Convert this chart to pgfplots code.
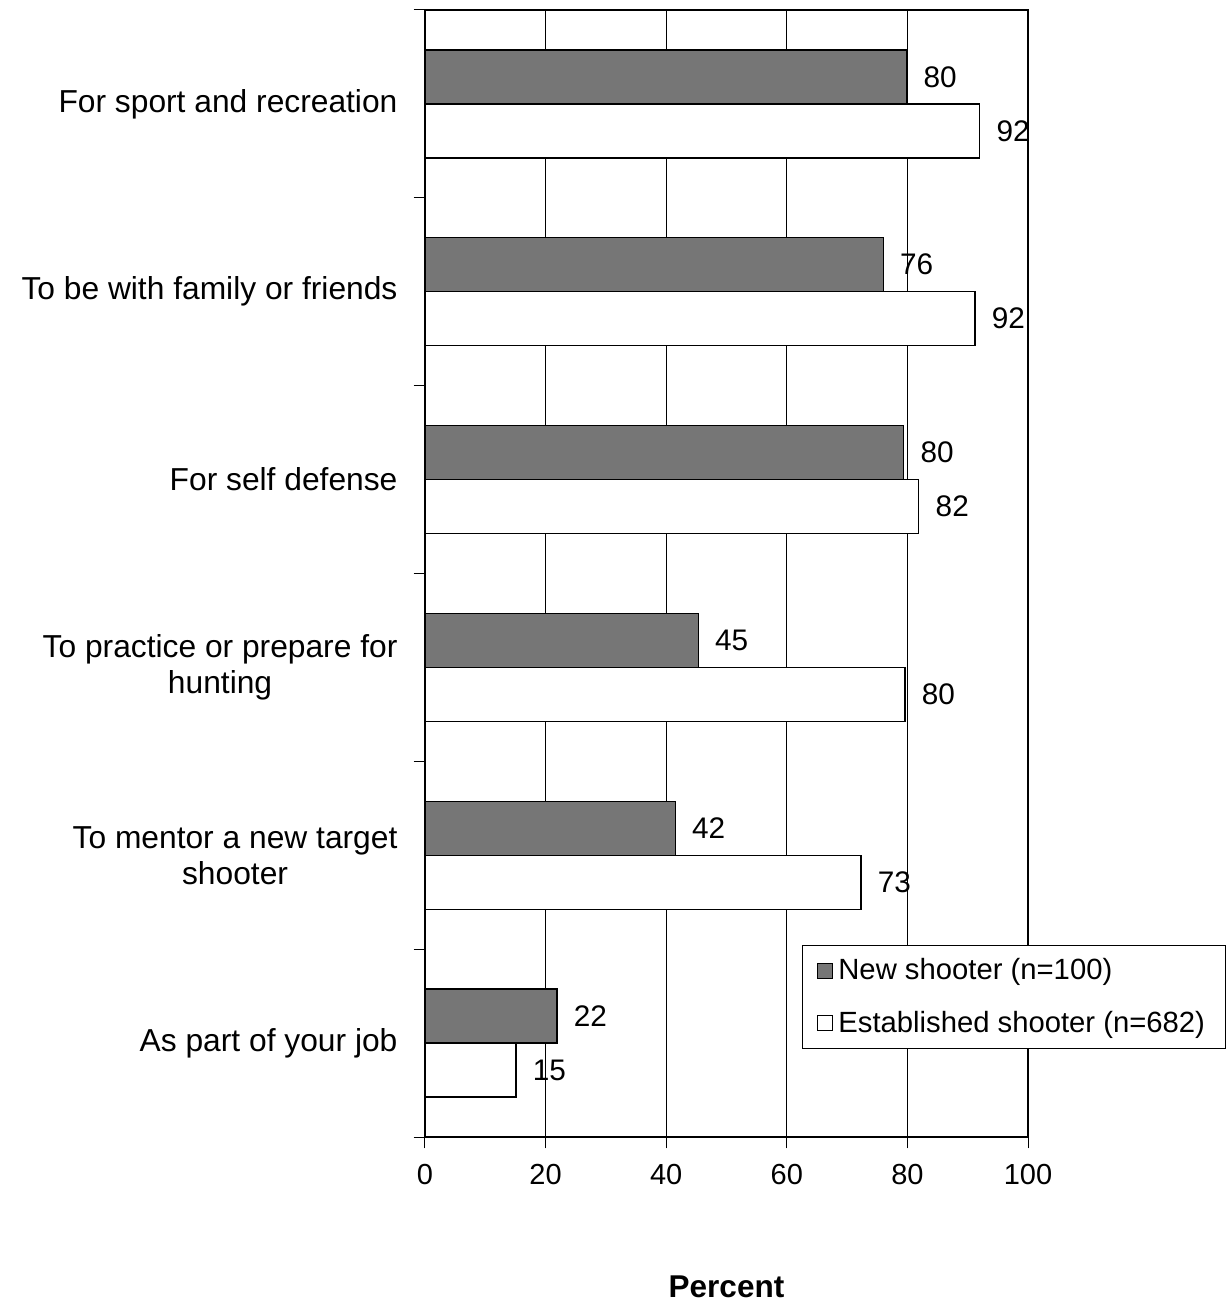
\documentclass[border=0pt]{standalone}
\usepackage{pgfplots}
\pgfplotsset{compat=1.18}
\usepackage{fontspec}
\setmainfont{Liberation Sans}
\definecolor{newgray}{RGB}{118,118,118}
\begin{document}
\begin{tikzpicture}
\begin{axis}[
 scale only axis, width=241.2pt, height=450.8pt,
 xmin=0, xmax=100, ymin=-0.5, ymax=5.5,
 xbar, bar width=21.6pt,
 xtick={0,20,...,100},
 /pgf/number format/assume math mode=true,
 xmajorgrids, grid style={black, line width=0.4pt},
 axis line style={line width=0.8pt},
 tick style={black, line width=0.4pt},
 tick align=outside, major tick length=4.5pt,
 xtick pos=bottom, ytick pos=left,
 ytick={-0.5,0.5,...,5.5}, yticklabels={},
 extra y ticks={0,1,2,3,4,5},
 extra y tick labels={As part of your job, To mentor a new target\\shooter, To practice or prepare for\\hunting, For self defense, To be with family or friends, For sport and recreation},
 extra y tick style={major tick length=0pt, tick label style={align=center, font=\fontsize{12.7}{14.4}\selectfont, xshift=-7.5pt}},
 xticklabel style={font=\fontsize{11.6}{14}\selectfont, yshift=-2.8pt},
 xlabel={Percent},
 xlabel style={font=\bfseries\fontsize{12.6}{14}\selectfont, at={(axis description cs:0.5,0)}, anchor=center, yshift=-60pt},
 nodes near coords, point meta=explicit symbolic,
 every node near coord/.append style={font=\fontsize{11.9}{14}\selectfont, black, anchor=west, inner xsep=6.5pt},
 legend style={at={(rel axis cs:0.625,0.1704)}, anchor=north west, draw=black, line width=0.4pt, font=\fontsize{11.7}{14}\selectfont, row sep=7pt, inner xsep=6pt, inner ysep=3.2pt},
 legend cell align=left,
 every axis plot post/.append style={legend image code/.code={\draw[#1, line width=0.4pt] (0.5pt,-3pt) rectangle (6.5pt,3pt);}},
 clip=false,
]
\addplot[fill=newgray, draw=black, line width=0.5pt, bar shift=10.8pt] coordinates {
 (79.9,5) [80] (76.0,4) [76] (79.4,3) [80] (45.3,2) [45] (41.5,1) [42] (21.9,0) [22]};
\addlegendentry{New shooter (n=100)}
\addplot[fill=white, draw=black, line width=0.5pt, bar shift=-10.8pt] coordinates {
 (92.0,5) [92] (91.2,4) [92] (81.9,3) [82] (79.6,2) [80] (72.3,1) [73] (15.1,0) [15]};
\addlegendentry{Established shooter (n=682)}
\coordinate (bl) at (rel axis cs:0,0);
\end{axis}
\pgfresetboundingbox
\path[use as bounding box] (bl) ++(-170pt,-69.6pt) rectangle ++(490.8pt,524.4pt);
\end{tikzpicture}
\end{document}
